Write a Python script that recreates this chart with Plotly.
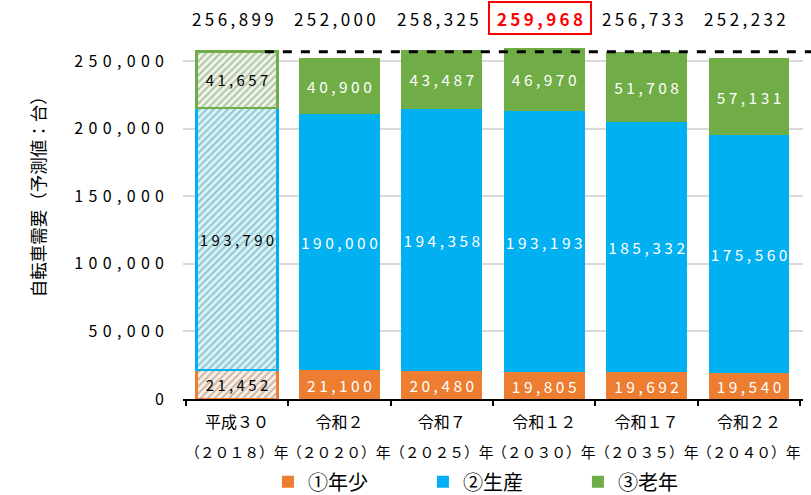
import plotly.graph_objects as go

# ---- data ----
era_labels = ["平成３０", "令和２", "令和７", "令和１２", "令和１７", "令和２２"]
year_labels = ["（２０１８）年", "（２０２０）年", "（２０２５）年", "（２０３０）年", "（２０３５）年", "（２０４０）年"]
series_names = ["①年少", "②生産", "③老年"]
young = [21452, 21100, 20480, 19805, 19692, 19540]
working = [193790, 190000, 194358, 193193, 185332, 175560]
old = [41657, 40900, 43487, 46970, 51708, 57131]
totals = [256899, 252000, 258325, 259968, 256733, 252232]
y_ticks = [0, 50000, 100000, 150000, 200000, 250000]

# ---- style ----
FONT = "Noto Sans CJK JP, Noto Sans, sans-serif"
colors = ["#ED7D31", "#00B0F0", "#70AD47"]
pat_bg = ["#fbefe6", "#d6f3fa", "#eef5e8"]
pat_fg = ["#c9b5a6", "#93c4cc", "#b0c2a4"]
Y_MAX = 270000


def spaced(v, sep=" "):
    return sep.join(f"{v:,}")


fig = go.Figure()
series = [young, working, old]
for i, (name, vals) in enumerate(zip(series_names, series)):
    # base-year bar (hatched)
    fig.add_trace(go.Bar(
        x=era_labels[:1], y=vals[:1], name=name, showlegend=False,
        text=[spaced(v) for v in vals[:1]], textposition="inside",
        insidetextanchor="middle", textangle=0, constraintext="none",
        textfont=dict(color="#000000", size=15, family=FONT),
        marker=dict(color=pat_bg[i],
                    line=dict(color=colors[i], width=2.5),
                    pattern=dict(shape="/", fillmode="replace", bgcolor=pat_bg[i],
                                 fgcolor=pat_fg[i], size=5, solidity=0.4)),
        hoverinfo="skip",
    ))
    # forecast bars
    fig.add_trace(go.Bar(
        x=era_labels[1:], y=vals[1:], name=name, showlegend=True,
        text=[spaced(v) for v in vals[1:]], textposition="inside",
        insidetextanchor="middle", textangle=0, constraintext="none",
        textfont=dict(color="#ffffff", size=15.5, family=FONT),
        marker=dict(color=colors[i], line=dict(width=0)),
        hoverinfo="skip",
    ))

annotations = []
imax = max(range(len(totals)), key=lambda k: totals[k])
for k, (cat, tot) in enumerate(zip(era_labels, totals)):
    if k == imax:
        annotations.append(dict(
            x=cat, xref="x", y=1.043, yref="paper", yanchor="middle",
            text="<b>" + spaced(tot, "\u2009") + "</b>", showarrow=False,
            font=dict(color="#FF0000", size=17, family=FONT),
            bordercolor="#FF0000", borderwidth=2, width=98, height=28,
            xshift=-4))
    else:
        annotations.append(dict(
            x=cat, xref="x", y=1.043, yref="paper", yanchor="middle",
            text=spaced(tot, "\u2009"), showarrow=False,
            font=dict(color="#000000", size=17, family=FONT), xshift=-4))
for cat, yl in zip(era_labels, year_labels):
    annotations.append(dict(
        x=cat, xref="x", y=-0.145, yref="paper", yanchor="middle",
        text=yl, showarrow=False, font=dict(color="#000000", size=14.8, family=FONT)))
annotations.append(dict(
    x=-0.235, xref="paper", y=0.567, yref="paper", xanchor="center", yanchor="middle",
    text="自転車需要（予測値：台）", textangle=-90, showarrow=False,
    font=dict(color="#000000", size=17.5, family=FONT)))

fig.update_layout(
    width=811, height=495,
    margin=dict(l=183, r=8, t=34, b=96, autoexpand=False),
    paper_bgcolor="white", plot_bgcolor="white",
    barmode="stack", bargap=0.21,
    font=dict(family=FONT, color="#000000"),
    xaxis=dict(
        type="category", categoryorder="array", categoryarray=era_labels,
        showline=True, linecolor="#000000", linewidth=1.5,
        ticks="outside", tickson="boundaries", ticklen=5, tickcolor="#000000", tickwidth=1.5,
        tickangle=0, tickfont=dict(size=16, family=FONT, color="#000000"),
        ticklabelstandoff=8, automargin=False,
        showgrid=False, fixedrange=True,
    ),
    yaxis=dict(
        range=[0, Y_MAX], tickvals=y_ticks,
        ticktext=[spaced(v, "\u2004") for v in y_ticks],
        tickfont=dict(size=16, family=FONT, color="#000000"),
        showgrid=True, gridcolor="#d9d9d9", gridwidth=1.5,
        zeroline=False, showline=False, ticks="", ticklabelstandoff=18,
        automargin=False, fixedrange=True,
    ),
    legend=dict(
        orientation="h", x=0.137, xanchor="left", y=-0.227, yanchor="middle",
        traceorder="normal", entrywidth=110, entrywidthmode="pixels",
        font=dict(size=20, family=FONT, color="#000000"),
        bgcolor="rgba(0,0,0,0)",
    ),
    annotations=annotations,
    shapes=[dict(type="line", xref="paper", yref="paper",
                 x0=0.132, x1=1.013, y0=totals[0] / Y_MAX, y1=totals[0] / Y_MAX,
                 line=dict(color="#000000", width=3, dash="dash"))],
)

fig.write_html("out.html", config={"displayModeBar": False},
               post_script="document.body.style.margin='0px';document.body.style.padding='0px';")
